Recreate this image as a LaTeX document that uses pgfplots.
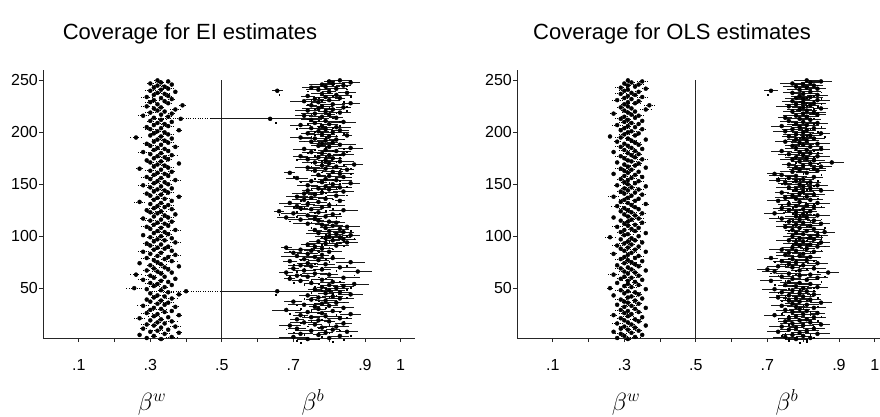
\documentclass[border=0pt]{standalone}
\usepackage{pgfplots}
\usepackage{pgfplotstable}
\pgfplotsset{compat=1.18}
\usepackage{fontspec}
\setmainfont{Liberation Sans}

\pgfplotstableread{
y wc ww bc bw bd
1 .33 .010 .74 .030 .72
2 .29 .005 .80 .020 .81
3 .36 .015 .70 .040 .71
4 .31 .010 .83 .025 .84
5 .27 .005 .77 .015 .77
6 .34 .020 .72 .035 .74
7 .38 .010 .79 .020 .78
8 .30 .005 .85 .030 .86
9 .32 .015 .75 .045 .73
10 .35 .005 .81 .020 .80
11 .28 .010 .71 .025 .70
12 .33 .005 .78 .015 .79
13 .37 .015 .82 .035 .83
14 .31 .010 .69 .030 .68
15 .29 .020 .76 .020 .77
16 .34 .005 .84 .025 .82
17 .32 .010 .73 .040 .74
18 .36 .015 .80 .015 .80
19 .30 .005 .77 .030 .76
20 .33 .010 .71 .020 .72
21 .27 .015 .83 .035 .84
22 .35 .005 .75 .025 .75
23 .31 .020 .79 .045 .78
24 .38 .010 .72 .020 .71
25 .32 .005 .86 .030 .85
26 .29 .015 .78 .015 .79
27 .34 .010 .74 .035 .73
28 .36 .005 .81 .025 .82
29 .30 .010 .68 .040 .69
30 .33 .015 .77 .020 .77
31 .31 .005 .84 .030 .83
32 .37 .010 .76 .015 .75
33 .28 .020 .80 .025 .81
34 .34 .005 .73 .045 .72
35 .32 .010 .78 .020 .79
36 .35 .015 .82 .035 .80
37 .30 .005 .70 .025 .71
38 .33 .010 .79 .030 .78
39 .29 .005 .75 .015 .76
40 .36 .015 .83 .040 .84
41 .31 .010 .77 .020 .77
42 .34 .005 .81 .030 .82
43 .32 .020 .74 .025 .73
44 .38 .010 .86 .035 .85
45 .30 .005 .79 .020 .80
46 .35 .015 .83 .030 .82
47 .40 .100 .655 .155 .65
48 .33 .010 .80 .045 .81
49 .29 .005 .76 .020 .75
50 .255 .025 .82 .035 .83
51 .34 .010 .78 .015 .78
52 .31 .015 .84 .030 .85
53 .36 .005 .80 .025 .79
54 .32 .010 .87 .040 .86
55 .30 .020 .75 .020 .76
56 .35 .005 .81 .035 .80
57 .33 .010 .72 .025 .73
58 .28 .015 .78 .030 .77
59 .37 .005 .69 .015 .70
60 .31 .010 .84 .045 .83
61 .34 .005 .74 .020 .75
62 .30 .015 .71 .030 .72
63 .26 .020 .80 .025 .79
64 .33 .010 .76 .035 .77
65 .36 .005 .68 .020 .69
66 .32 .015 .88 .040 .87
67 .29 .010 .73 .030 .72
68 .35 .005 .78 .025 .79
69 .31 .010 .70 .015 .71
70 .34 .020 .83 .045 .82
71 .38 .005 .75 .020 .76
72 .30 .010 .72 .035 .73
73 .33 .015 .79 .025 .78
74 .27 .005 .74 .030 .75
75 .32 .010 .86 .040 .85
76 .36 .015 .69 .020 .70
77 .31 .005 .77 .030 .76
78 .34 .010 .73 .015 .74
79 .29 .020 .81 .035 .80
80 .35 .005 .76 .025 .77
81 .32 .010 .71 .045 .72
82 .37 .015 .78 .020 .79
83 .30 .005 .74 .030 .73
84 .33 .010 .70 .025 .71
85 .28 .015 .80 .035 .81
86 .36 .005 .75 .020 .74
87 .31 .010 .72 .040 .73
88 .34 .020 .78 .030 .77
89 .32 .005 .68 .015 .69
90 .35 .010 .76 .025 .77
91 .30 .015 .82 .035 .81
92 .33 .005 .74 .020 .75
93 .29 .010 .79 .045 .80
94 .37 .015 .85 .030 .84
95 .31 .005 .77 .025 .78
96 .34 .010 .81 .020 .82
97 .32 .020 .84 .035 .83
98 .36 .005 .79 .015 .80
99 .30 .010 .83 .030 .84
100 .33 .015 .80 .040 .79
101 .28 .005 .86 .025 .87
102 .35 .010 .82 .020 .81
103 .31 .005 .77 .035 .78
104 .34 .015 .84 .030 .85
105 .32 .010 .80 .045 .79
106 .37 .020 .76 .020 .77
107 .30 .005 .83 .025 .82
108 .33 .010 .79 .015 .80
109 .29 .015 .85 .035 .86
110 .35 .005 .81 .030 .80
111 .31 .010 .78 .020 .79
112 .34 .015 .74 .040 .75
113 .32 .005 .82 .025 .81
114 .36 .010 .80 .030 .79
115 .30 .020 .77 .015 .78
116 .33 .005 .72 .035 .73
117 .28 .010 .76 .020 .75
118 .35 .015 .68 .025 .69
119 .31 .005 .79 .045 .80
120 .34 .010 .74 .030 .73
121 .37 .005 .81 .020 .82
122 .32 .015 .70 .035 .71
123 .30 .010 .77 .025 .76
124 .33 .020 .66 .015 .66
125 .29 .005 .84 .040 .83
126 .36 .010 .75 .030 .76
127 .31 .015 .72 .020 .71
128 .34 .005 .78 .025 .79
129 .32 .010 .71 .035 .72
130 .35 .015 .80 .045 .81
131 .30 .005 .74 .020 .73
132 .33 .010 .69 .030 .70
133 .27 .020 .77 .025 .78
134 .36 .005 .83 .015 .82
135 .31 .010 .73 .035 .74
136 .34 .015 .79 .020 .80
137 .32 .005 .75 .040 .74
138 .38 .010 .71 .030 .72
139 .30 .005 .82 .025 .81
140 .33 .015 .76 .020 .77
141 .29 .010 .73 .035 .72
142 .35 .020 .78 .045 .79
143 .31 .005 .84 .030 .85
144 .34 .010 .74 .015 .75
145 .32 .015 .80 .025 .79
146 .36 .005 .77 .020 .78
147 .30 .010 .83 .035 .84
148 .33 .005 .79 .040 .78
149 .28 .015 .74 .030 .75
150 .35 .010 .81 .020 .82
151 .31 .020 .86 .025 .85
152 .34 .005 .78 .015 .79
153 .32 .010 .75 .035 .74
154 .37 .015 .82 .045 .83
155 .30 .005 .79 .020 .80
156 .33 .010 .71 .030 .72
157 .29 .015 .84 .025 .83
158 .35 .005 .80 .035 .81
159 .31 .010 .77 .020 .76
160 .34 .020 .83 .040 .84
161 .32 .005 .69 .015 .70
162 .36 .010 .81 .030 .80
163 .30 .015 .76 .025 .77
164 .33 .005 .85 .020 .86
165 .27 .010 .79 .045 .78
166 .35 .015 .74 .035 .75
167 .31 .005 .82 .030 .83
168 .34 .010 .78 .020 .79
169 .32 .020 .87 .025 .86
170 .38 .005 .80 .015 .81
171 .30 .010 .76 .035 .75
172 .33 .015 .83 .040 .84
173 .29 .005 .79 .020 .78
174 .35 .010 .74 .030 .75
175 .31 .005 .81 .025 .82
176 .34 .015 .77 .045 .78
177 .32 .010 .72 .020 .71
178 .36 .020 .80 .035 .81
179 .30 .005 .84 .030 .83
180 .33 .010 .78 .015 .79
181 .28 .015 .75 .025 .76
182 .35 .005 .82 .040 .83
183 .31 .010 .79 .020 .78
184 .34 .015 .73 .030 .74
185 .32 .005 .86 .035 .85
186 .37 .010 .80 .025 .81
187 .30 .020 .77 .020 .76
188 .33 .005 .83 .045 .84
189 .29 .010 .78 .030 .79
190 .35 .015 .81 .015 .80
191 .31 .005 .75 .035 .76
192 .34 .010 .79 .025 .78
193 .32 .015 .82 .020 .83
194 .36 .005 .76 .040 .77
195 .26 .020 .72 .030 .73
196 .33 .010 .80 .025 .81
197 .30 .005 .85 .015 .84
198 .35 .015 .78 .035 .79
199 .31 .010 .74 .020 .75
200 .34 .005 .81 .045 .82
201 .32 .015 .77 .030 .76
202 .38 .010 .83 .025 .84
203 .30 .020 .79 .020 .78
204 .33 .005 .75 .035 .76
205 .29 .010 .82 .040 .83
206 .35 .015 .78 .015 .79
207 .31 .005 .72 .030 .71
208 .34 .010 .80 .025 .81
209 .32 .015 .76 .020 .77
210 .36 .005 .84 .035 .83
211 .30 .010 .79 .045 .80
212 .33 .020 .75 .030 .74
213 .385 .085 .635 .165 .65
214 .31 .005 .82 .020 .83
215 .35 .010 .78 .035 .77
216 .28 .015 .73 .025 .74
217 .33 .005 .80 .015 .81
218 .36 .010 .76 .040 .77
219 .30 .015 .83 .030 .82
220 .34 .005 .79 .020 .80
221 .32 .010 .74 .035 .75
222 .37 .020 .81 .025 .82
223 .31 .005 .77 .045 .76
224 .33 .010 .84 .020 .85
225 .29 .015 .78 .030 .79
226 .39 .010 .75 .015 .76
227 .32 .005 .81 .035 .80
228 .35 .010 .86 .025 .85
229 .30 .015 .77 .020 .78
230 .34 .005 .73 .040 .74
231 .31 .020 .80 .030 .81
232 .36 .010 .76 .025 .75
233 .33 .005 .83 .015 .84
234 .29 .015 .79 .035 .78
235 .35 .010 .74 .020 .75
236 .31 .005 .82 .045 .83
237 .34 .015 .78 .030 .77
238 .32 .010 .85 .025 .86
239 .37 .005 .80 .020 .81
240 .30 .020 .655 .015 .66
241 .33 .010 .77 .035 .78
242 .35 .015 .82 .030 .83
243 .31 .005 .75 .025 .74
244 .34 .010 .79 .040 .80
245 .32 .015 .84 .020 .85
246 .36 .005 .78 .035 .79
247 .30 .010 .81 .030 .82
248 .33 .020 .86 .025 .85
249 .35 .005 .80 .015 .81
250 .32 .010 .83 .035 .84
}\eidata

\pgfplotstableread{
y wc ww bc bw bd
1 .31 .010 .78 .030 .79
2 .28 .005 .82 .025 .81
3 .33 .015 .75 .035 .76
4 .30 .010 .80 .020 .81
5 .35 .005 .77 .030 .76
6 .29 .015 .84 .035 .83
7 .32 .010 .79 .025 .80
8 .27 .005 .73 .030 .74
9 .34 .010 .81 .035 .82
10 .31 .020 .76 .025 .75
11 .29 .005 .83 .030 .84
12 .33 .010 .78 .020 .79
13 .30 .015 .74 .035 .73
14 .36 .005 .80 .030 .81
15 .32 .010 .85 .025 .84
16 .28 .015 .77 .035 .78
17 .31 .005 .82 .030 .83
18 .34 .010 .75 .020 .76
19 .30 .005 .79 .035 .80
20 .33 .015 .81 .025 .82
21 .29 .010 .76 .030 .75
22 .35 .005 .83 .035 .84
23 .31 .015 .78 .025 .79
24 .27 .010 .72 .030 .73
25 .32 .005 .80 .035 .81
26 .30 .020 .84 .020 .85
27 .34 .010 .77 .030 .76
28 .31 .005 .81 .035 .82
29 .29 .015 .75 .025 .74
30 .33 .010 .79 .030 .80
31 .36 .005 .83 .035 .82
32 .30 .010 .78 .025 .79
33 .32 .015 .74 .030 .75
34 .28 .005 .81 .035 .80
35 .34 .010 .77 .020 .78
36 .31 .020 .85 .030 .84
37 .30 .005 .79 .035 .80
38 .33 .010 .76 .025 .77
39 .29 .015 .82 .030 .81
40 .35 .005 .78 .035 .79
41 .31 .010 .73 .025 .74
42 .32 .015 .80 .030 .81
43 .27 .005 .76 .035 .75
44 .34 .010 .83 .020 .84
45 .30 .005 .79 .030 .78
46 .33 .015 .74 .035 .75
47 .31 .010 .81 .025 .82
48 .29 .020 .77 .030 .76
49 .36 .005 .72 .035 .73
50 .26 .010 .80 .025 .81
51 .32 .015 .84 .030 .83
52 .30 .005 .78 .035 .79
53 .34 .010 .75 .020 .76
54 .31 .015 .82 .030 .83
55 .28 .005 .79 .035 .78
56 .33 .010 .76 .025 .77
57 .31 .020 .71 .030 .72
58 .35 .005 .81 .035 .82
59 .29 .010 .77 .025 .76
60 .32 .015 .84 .030 .85
61 .30 .005 .74 .035 .75
62 .34 .010 .79 .020 .80
63 .27 .015 .82 .030 .81
64 .31 .005 .76 .035 .77
65 .33 .010 .87 .030 .86
66 .30 .020 .72 .035 .73
67 .36 .005 .79 .025 .78
68 .32 .010 .70 .030 .71
69 .29 .015 .83 .035 .84
70 .31 .005 .77 .020 .78
71 .34 .010 .73 .030 .72
72 .28 .005 .80 .035 .81
73 .33 .015 .76 .025 .77
74 .30 .010 .84 .030 .83
75 .32 .020 .78 .035 .79
76 .35 .005 .74 .025 .75
77 .31 .010 .81 .030 .80
78 .29 .015 .77 .035 .78
79 .33 .005 .71 .020 .72
80 .30 .010 .82 .030 .83
81 .34 .015 .79 .035 .78
82 .31 .005 .75 .025 .76
83 .27 .010 .80 .030 .81
84 .32 .020 .76 .035 .77
85 .36 .005 .83 .025 .82
86 .30 .010 .78 .030 .79
87 .33 .015 .74 .035 .75
88 .29 .005 .81 .020 .82
89 .31 .010 .77 .030 .76
90 .34 .005 .84 .035 .85
91 .28 .015 .79 .025 .80
92 .32 .010 .82 .030 .83
93 .30 .020 .78 .035 .77
94 .35 .005 .85 .025 .86
95 .31 .010 .80 .030 .81
96 .33 .015 .76 .035 .77
97 .29 .005 .83 .020 .84
98 .32 .010 .79 .030 .80
99 .26 .015 .82 .035 .81
100 .34 .005 .77 .025 .78
101 .30 .010 .84 .030 .85
102 .31 .020 .80 .035 .81
103 .36 .005 .78 .025 .77
104 .29 .010 .86 .030 .85
105 .33 .015 .81 .035 .82
106 .30 .005 .77 .020 .78
107 .32 .010 .83 .030 .84
108 .34 .005 .79 .035 .80
109 .28 .015 .75 .025 .76
110 .31 .010 .82 .030 .81
111 .33 .020 .78 .035 .79
112 .30 .005 .85 .025 .86
113 .35 .010 .80 .030 .81
114 .31 .015 .76 .035 .77
115 .29 .005 .83 .020 .82
116 .32 .010 .79 .030 .80
117 .34 .015 .74 .035 .75
118 .27 .005 .81 .025 .82
119 .31 .010 .78 .030 .77
120 .33 .020 .84 .035 .85
121 .30 .005 .80 .025 .81
122 .35 .010 .72 .030 .73
123 .32 .015 .78 .035 .79
124 .29 .005 .82 .020 .83
125 .31 .010 .76 .030 .77
126 .34 .005 .80 .035 .81
127 .30 .015 .74 .025 .75
128 .33 .010 .83 .030 .82
129 .28 .020 .78 .035 .79
130 .32 .005 .81 .025 .80
131 .36 .010 .76 .030 .77
132 .31 .015 .84 .035 .85
133 .29 .005 .79 .020 .78
134 .33 .010 .73 .030 .74
135 .30 .015 .82 .035 .83
136 .34 .005 .78 .025 .79
137 .31 .010 .75 .030 .76
138 .27 .020 .81 .035 .82
139 .32 .005 .77 .025 .78
140 .35 .010 .83 .030 .84
141 .30 .015 .79 .035 .80
142 .33 .005 .74 .020 .75
143 .29 .010 .80 .030 .81
144 .31 .005 .85 .035 .84
145 .34 .015 .78 .025 .79
146 .30 .010 .82 .030 .83
147 .32 .020 .76 .035 .77
148 .36 .005 .80 .025 .81
149 .28 .010 .84 .030 .85
150 .31 .015 .79 .035 .78
151 .33 .005 .75 .020 .76
152 .30 .010 .82 .030 .83
153 .34 .015 .78 .035 .79
154 .31 .005 .73 .025 .74
155 .29 .010 .80 .030 .81
156 .32 .020 .76 .035 .77
157 .35 .005 .83 .025 .84
158 .30 .010 .78 .030 .79
159 .33 .015 .74 .035 .75
160 .27 .005 .72 .020 .73
161 .31 .010 .81 .030 .80
162 .34 .005 .77 .035 .78
163 .30 .015 .84 .025 .85
164 .32 .010 .79 .030 .80
165 .29 .020 .83 .035 .82
166 .36 .005 .78 .025 .79
167 .31 .010 .85 .030 .86
168 .33 .015 .80 .035 .81
169 .30 .005 .76 .020 .77
170 .34 .010 .82 .030 .83
171 .28 .005 .88 .035 .87
172 .32 .015 .79 .025 .80
173 .31 .010 .83 .030 .84
174 .35 .020 .77 .035 .78
175 .30 .005 .81 .025 .82
176 .33 .010 .78 .030 .79
177 .29 .015 .84 .035 .83
178 .32 .005 .80 .020 .81
179 .34 .010 .76 .030 .77
180 .31 .015 .82 .035 .83
181 .27 .005 .79 .025 .80
182 .33 .010 .74 .030 .75
183 .30 .020 .81 .035 .82
184 .35 .005 .85 .025 .84
185 .32 .010 .78 .030 .79
186 .29 .015 .82 .035 .83
187 .31 .005 .77 .020 .78
188 .34 .010 .80 .030 .81
189 .30 .005 .84 .035 .85
190 .33 .015 .79 .025 .80
191 .28 .010 .75 .030 .76
192 .32 .020 .81 .035 .82
193 .36 .005 .78 .025 .79
194 .31 .010 .83 .030 .84
195 .29 .015 .80 .035 .81
196 .26 .005 .76 .020 .77
197 .33 .010 .82 .030 .83
198 .30 .015 .78 .035 .79
199 .34 .005 .85 .025 .86
200 .31 .010 .80 .030 .81
201 .32 .020 .75 .035 .76
202 .29 .005 .81 .025 .82
203 .35 .010 .77 .030 .78
204 .30 .015 .83 .035 .84
205 .33 .005 .79 .020 .80
206 .31 .010 .74 .030 .75
207 .28 .015 .81 .035 .82
208 .34 .005 .78 .025 .79
209 .32 .010 .84 .030 .85
210 .30 .020 .80 .035 .81
211 .35 .005 .76 .025 .77
212 .31 .010 .82 .030 .83
213 .29 .015 .79 .035 .80
214 .33 .005 .75 .020 .76
215 .30 .010 .81 .030 .82
216 .34 .015 .78 .035 .79
217 .32 .005 .84 .025 .83
218 .27 .010 .80 .030 .81
219 .31 .020 .83 .035 .84
220 .33 .005 .77 .025 .78
221 .30 .010 .81 .030 .82
222 .36 .015 .79 .035 .80
223 .32 .005 .85 .020 .84
224 .29 .010 .80 .030 .81
225 .31 .005 .76 .035 .77
226 .37 .015 .82 .025 .83
227 .30 .010 .78 .030 .79
228 .33 .020 .83 .035 .84
229 .31 .005 .80 .025 .81
230 .34 .010 .77 .030 .78
231 .28 .015 .84 .035 .85
232 .32 .005 .80 .020 .81
233 .30 .010 .78 .030 .79
234 .35 .015 .82 .035 .83
235 .31 .005 .79 .025 .80
236 .33 .010 .84 .030 .85
237 .29 .020 .80 .035 .81
238 .32 .005 .77 .025 .78
239 .34 .010 .82 .030 .83
240 .30 .015 .71 .020 .70
241 .31 .005 .79 .035 .80
242 .36 .010 .84 .025 .85
243 .29 .015 .81 .030 .82
244 .33 .005 .78 .035 .79
245 .31 .010 .83 .025 .84
246 .34 .020 .80 .030 .81
247 .30 .005 .77 .035 .78
248 .32 .010 .82 .025 .83
249 .35 .015 .85 .030 .84
250 .31 .005 .81 .035 .80
}\olsdata

\pgfplotsset{
  covaxis/.style={
    scale only axis, width=372pt, height=268pt,
    xmin=0, xmax=1.04, ymin=2, ymax=260,
    axis lines=left, axis line style={-, line width=0.8pt, black!85},
    clip=false,
    xtick={0.1,0.2,0.3,0.4,0.5,0.6,0.7,0.8,0.9,1.0},
    xticklabels={.1,,.3,,.5,,.7,,.9,1},
    ytick={50,100,150,200,250},
    tick align=outside, major tick length=4pt,
    tick style={line width=0.8pt, black!85},
    /pgf/number format/assume math mode=true,
    ticklabel style={font=\fontsize{16}{18}\selectfont},
    xticklabel style={yshift=-14pt},
    yticklabel style={inner sep=1pt},
  },
  wbar/.style={only marks, mark=none,
    error bars/.cd, x dir=both, x explicit, error mark=none,
    error bar style={line width=0.8pt, black, dash pattern=on 0.9pt off 1.5pt}},
  bbar/.style={only marks, mark=none,
    error bars/.cd, x dir=both, x explicit, error mark=none,
    error bar style={line width=0.8pt, black!90}},
  tdot/.style={only marks, mark=square*, mark size=0.35pt, draw=none, fill=black},
}

\begin{document}
\begin{tikzpicture}
\begin{axis}[covaxis, at={(43pt,78pt)}, anchor=south west]
\addplot[black!85, line width=0.8pt] coordinates {(0.5,2) (0.5,250)};
\addplot[wbar] table[x=wc, y=y, x error=ww] {\eidata};
\addplot[bbar] table[x=bc, y=y, x error=bw] {\eidata};
\addplot[tdot] table[x=bd, y expr=\thisrow{y}-3.5] {\eidata};
\end{axis}
\begin{axis}[covaxis, at={(517pt,78pt)}, anchor=south west]
\addplot[black!85, line width=0.8pt] coordinates {(0.5,2) (0.5,250)};
\addplot[wbar] table[x=wc, y=y, x error=ww] {\olsdata};
\addplot[bbar] table[x=bc, y=y, x error=bw] {\olsdata};
\addplot[tdot] table[x=bd, y expr=\thisrow{y}-3.5] {\olsdata};
\end{axis}
\node[anchor=base, font=\fontsize{22}{26}\selectfont] at (190pt,376pt) {Coverage for EI estimates};
\node[anchor=base, font=\fontsize{22}{26}\selectfont] at (672pt,376pt) {Coverage for OLS estimates};
\node[anchor=base, font=\fontsize{23}{27}\selectfont] at (152pt,5.5pt) {$\beta^w$};
\node[anchor=base, font=\fontsize{23}{27}\selectfont] at (313pt,5.5pt) {$\beta^b$};
\node[anchor=base, font=\fontsize{23}{27}\selectfont] at (626pt,5.5pt) {$\beta^w$};
\node[anchor=base, font=\fontsize{23}{27}\selectfont] at (787pt,5.5pt) {$\beta^b$};
\pgfresetboundingbox
\useasboundingbox (0,0) rectangle (880pt,416pt);
\end{tikzpicture}
\end{document}
